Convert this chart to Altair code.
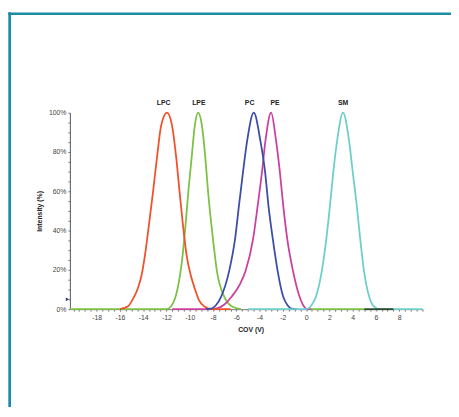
import altair as alt
import pandas as pd

# ---- data (COV in V, intensity in %) ----
lpc_x = [-16.0, -15.3, -14.9, -14.48, -14.15, -13.86, -13.49, -13.15, -12.82, -12.45, -11.95,
         -11.53, -11.16, -10.88, -10.6, -10.26, -9.9, -9.56, -9.2, -8.7, -8.1, -6.5]
lpc_y = [0, 1.5, 5, 10.3, 17, 27, 43.7, 60, 77, 93.7, 100,
         93.7, 77, 60, 43.7, 27, 17, 10.3, 4.5, 1.2, 0, 0]

lpe_x = [-20.3, -12.0, -11.6, -11.05, -10.62, -10.35, -10.12, -9.84, -9.56, -9.28,
         -8.97, -8.66, -8.43, -8.01, -7.67, -7.03, -6.4, -5.6]
lpe_y = [0, 0, 1.5, 10.3, 27, 43.7, 60, 77, 93.7, 100,
         94, 77, 60, 36, 19.5, 6.3, 1.5, 0]

pc_x = [-8.6, -8.15, -7.75, -7.31, -6.61, -6.1, -5.77, -5.43, -5.06, -4.5,
        -3.94, -3.52, -3.24, -2.87, -2.45, -1.97, -1.6, -1.26, -0.8]
pc_y = [0, 0.3, 2, 6.3, 19.5, 36, 52.8, 69.5, 86, 100,
        86, 69.5, 52.8, 36, 19.5, 6.3, 2, 0.3, 0]

pe_x = [-11.5, -8.2, -7.6, -7.0, -6.41, -5.68, -5.2, -4.55, -4.16, -3.8, -3.49, -3.01,
        -2.59, -2.25, -1.97, -1.63, -1.13, -0.56, -0.2, 0.1, 0.5]
pe_y = [0, 0, 0.5, 2.5, 6.3, 12.8, 19.5, 36, 52.8, 69.5, 86, 100,
        86, 69.5, 52.8, 36, 19.5, 6.3, 1.5, 0, 0]

sm_x = [-5.0, 0.0, 0.4, 0.84, 1.35, 1.74, 2.05, 2.33, 2.67, 3.17,
        3.68, 4.01, 4.35, 4.64, 4.97, 5.42, 5.8, 6.3, 10.0]
sm_y = [0, 0, 1.5, 6.3, 19.5, 36, 52.8, 69.5, 86, 100,
        86, 69.5, 52.8, 36, 19.5, 6.3, 1.5, 0, 0]

# flat baseline traces
base_x1 = [0.4, 5.0]
base_x2 = [5.0, 7.5]
base_name = ["LPE", "dark"]

# peak labels
label_text = ["LPC", "LPE", "PC", "PE", "SM"]
label_x = [-12.25, -9.22, -4.86, -2.67, 3.17]
label_y = [100, 100, 100, 100, 100]

# marker on the y axis
marker_y = [5]

x_ticks = [v / 2 for v in range(-40, 21)]
y_ticks = list(range(0, 101, 5))

colors = {
    "LPC": "#f0512b",
    "LPE": "#7cc143",
    "PC": "#3b4ea6",
    "PE": "#cc3f9e",
    "SM": "#6dcfc9",
    "dark": "#2d4a2d",
}

FONT = "Liberation Sans"

x_scale = alt.Scale(domain=[-20.3, 10], nice=False, zero=False)
y_scale = alt.Scale(domain=[0, 100], nice=False)

x_axis = alt.Axis(
    values=x_ticks,
    labelExpr="(datum.value % 2 === 0 && datum.value >= -18 && datum.value <= 8) ? '' + datum.value : ''",
    title="COV (V)",
    titleX=184,
    titleFontWeight="bold",
    titleFontSize=7,
    titleFont=FONT,
    titleColor="#222222",
    titlePadding=5,
    labelFont=FONT,
    labelFontSize=7,
    labelColor="#444444",
    labelPadding=3,
    labelOverlap=False,
    labelFlush=False,
    tickSize=2,
    tickColor="#777777",
    domainColor="#777777",
    grid=False,
)

y_axis = alt.Axis(
    values=y_ticks,
    labelExpr="(datum.value % 20 === 0) ? datum.value + '%' : ''",
    title="Intensity (%)",
    titleFontWeight="bold",
    titleFontSize=7,
    titleFont=FONT,
    titleColor="#222222",
    titlePadding=6,
    labelFont=FONT,
    labelFontSize=7,
    labelColor="#444444",
    labelPadding=2,
    labelOverlap=False,
    labelFlush=False,
    tickSize=2,
    tickColor="#777777",
    domainColor="#555555",
    grid=False,
)

X = lambda f: alt.X(f, scale=x_scale, axis=x_axis)
Y = lambda f: alt.Y(f, scale=y_scale, axis=y_axis)


def curve(name, xs, ys):
    df = pd.DataFrame({"cov": xs, "intensity": ys})
    return alt.Chart(df).mark_line(
        color=colors[name], strokeWidth=1.8, interpolate="monotone", clip=False
    ).encode(x=X("cov:Q"), y=Y("intensity:Q"))


layers = [
    curve("LPE", lpe_x, lpe_y),
    curve("PE", pe_x, pe_y),
    curve("LPC", lpc_x, lpc_y),
    curve("PC", pc_x, pc_y),
    curve("SM", sm_x, sm_y),
]

base_df = pd.DataFrame({"x1": base_x1, "x2": base_x2, "name": base_name,
                        "y": [0] * len(base_x1)})
base = alt.Chart(base_df).mark_rule(strokeWidth=1.8).encode(
    x=X("x1:Q"),
    x2="x2:Q",
    y=Y("y:Q"),
    color=alt.Color("name:N", scale=alt.Scale(domain=list(colors.keys()),
                                              range=list(colors.values())), legend=None),
)

lab_df = pd.DataFrame({"t": label_text, "x": label_x, "y": label_y})
labels = alt.Chart(lab_df).mark_text(
    font=FONT, fontSize=7, fontWeight="bold", color="#222222",
    baseline="middle", dy=-10,
).encode(x=X("x:Q"), y=Y("y:Q"), text="t:N")

mk_df = pd.DataFrame({"y": marker_y})
marker = alt.Chart(mk_df).mark_point(
    shape="triangle-right", filled=True, color="#2b3a7c", size=14, opacity=1
).encode(x=alt.value(-2.5), y=Y("y:Q"))

border_v = alt.Chart(mk_df).mark_rule(color="#1c8ca6", strokeWidth=2.8).encode(
    x=alt.value(-61.3), y=alt.value(-102.3), y2=alt.value(310)
)
border_h = alt.Chart(mk_df).mark_rule(color="#1c8ca6", strokeWidth=2.6).encode(
    y=alt.value(-100.8), x=alt.value(-62.7), x2=alt.value(400)
)

chart = alt.layer(*layers, base, labels, marker, border_v, border_h).properties(
    width=359,
    height=200,
    autosize=alt.AutoSizeParams(type="none"),
    padding={"left": 63, "top": 103, "right": 29, "bottom": 96},
    background="#ffffff",
).configure_view(strokeWidth=0)

chart.save("out.html", embed_options={"renderer": "svg", "actions": False})
